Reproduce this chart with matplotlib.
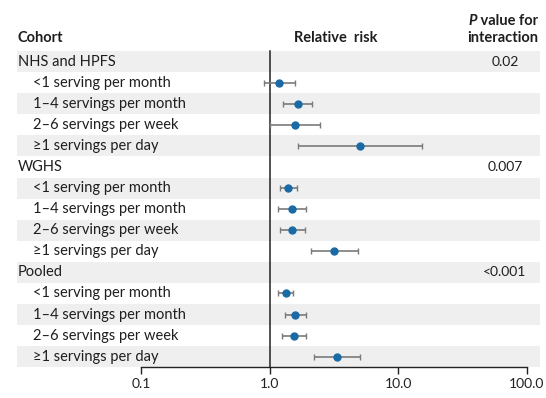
import matplotlib
matplotlib.use("Agg")
import matplotlib.pyplot as plt
from matplotlib.patches import Rectangle
from matplotlib.transforms import blended_transform_factory

plt.rcParams['font.family'] = ['Lato', 'DejaVu Sans']

cohorts = ["NHS and HPFS", "WGHS", "Pooled"]
p_values = ["0.02", "0.007", "<0.001"]
categories = ["<1 serving per month", "1\u20134 servings per month",
              "2\u20136 servings per week", "\u22651 servings per day"]
rr = [
    [1.18, 1.67, 1.58, 5.02],
    [1.40, 1.49, 1.50, 3.17],
    [1.35, 1.58, 1.55, 3.35],
]
ci_low = [
    [0.90, 1.28, 1.01, 1.67],
    [1.20, 1.17, 1.20, 2.10],
    [1.17, 1.32, 1.25, 2.20],
]
ci_high = [
    [1.58, 2.15, 2.47, 15.4],
    [1.63, 1.92, 1.87, 4.82],
    [1.53, 1.90, 1.92, 5.06],
]
tick_values = [0.1, 1.0, 10.0, 100.0]
tick_labels = ["0.1", "1.0", "10.0", "100.0"]

W, H = 546, 398
fig = plt.figure(figsize=(W / 100, H / 100), dpi=100)

ax_left, ax_right = 141, 527
row_top, row_bot = 51.1, 367.2
ax = fig.add_axes([ax_left / W, 1 - row_bot / H, (ax_right - ax_left) / W, (row_bot - row_top) / H])
ax.set_xscale('log')
ax.set_xlim(0.1, 100)
n_rows = len(cohorts) * (len(categories) + 1)
ax.set_ylim(n_rows - 0.5, -0.5)
ax.patch.set_alpha(0)

for s in ['top', 'right', 'left']:
    ax.spines[s].set_visible(False)
ax.spines['bottom'].set_linewidth(1.0)
ax.spines['bottom'].set_color('#222222')
ax.set_yticks([])
ax.set_xticks(tick_values)
ax.set_xticklabels(tick_labels)
ax.minorticks_off()
ax.tick_params(axis='x', direction='out', length=5, width=1, colors='#222222',
               labelsize=10, pad=3, labelcolor='#222222')

tr = blended_transform_factory(fig.transFigure, ax.transData)
text_color = '#1e1e1e'

row = 0
for ci, cohort in enumerate(cohorts):
    rows_here = [row + k for k in range(len(categories) + 1)]
    for r in rows_here:
        if r % 2 == 0:
            ax.add_patch(Rectangle((17 / W, r - 0.5), (540 - 17) / W, 1.0, transform=tr,
                                   facecolor='#efefef', edgecolor='none', zorder=0, clip_on=False))
    ax.text(18 / W, row, cohort, transform=tr, ha='left', va='center', fontsize=10.5, color=text_color)
    ax.text(505 / W, row, p_values[ci], transform=tr, ha='center', va='center', fontsize=10, color=text_color)
    row += 1
    for k, cat in enumerate(categories):
        ax.text(33 / W, row, cat, transform=tr, ha='left', va='center', fontsize=10.5, color=text_color)
        v = rr[ci][k]
        lo, hi = ci_low[ci][k], ci_high[ci][k]
        ax.errorbar([v], [row], xerr=[[v - lo], [hi - v]], fmt='none', ecolor='#7a7a7a',
                    elinewidth=1.2, capsize=2.2, capthick=1.0, zorder=2)
        ax.plot([v], [row], 'o', color='#1a6aa6', markersize=5, zorder=3)
        row += 1

ax.plot([1, 1], [-0.5, n_rows - 0.5], color='#222222', lw=1.1, zorder=1, clip_on=False)

fig.text(18 / W, 1 - 38 / H, "Cohort", ha='left', va='center', fontsize=10.5, fontweight='bold', color=text_color)
fig.text(336 / W, 1 - 38 / H, "Relative  risk", ha='center', va='center', fontsize=10.5, fontweight='bold', color=text_color)
fig.text(538 / W, 1 - 38 / H, "interaction", ha='right', va='center', fontsize=10.5, fontweight='bold', color=text_color)
t = fig.text(538 / W, 1 - 21 / H, " value for", ha='right', va='center', fontsize=10.5, fontweight='bold', color=text_color)
fig.canvas.draw()
bb = t.get_window_extent()
fig.text(bb.x0 / W, 1 - 21 / H, "P", ha='right', va='center', fontsize=10.5, fontweight='bold',
         fontstyle='italic', color=text_color)

fig.savefig("out.png", dpi=100)
